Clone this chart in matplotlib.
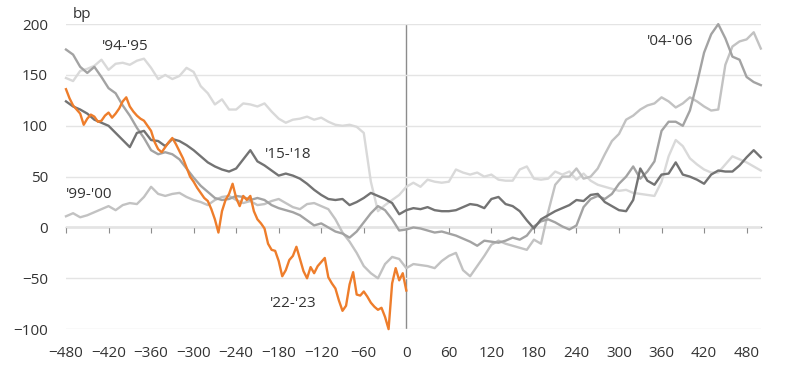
import numpy as np
import matplotlib
matplotlib.use("Agg")
import matplotlib.pyplot as plt

plt.rcParams['font.family'] = ['Open Sans', 'DejaVu Sans']

# ---- data (bp, x = business days relative to last hike) ----
x_orange = np.arange(-480, 1, 5)
y_2223 = [136, 127, 120, 116, 112, 101, 107, 111, 109, 104,
          105, 110, 113, 108, 112, 117, 124, 128, 119, 114,
          110, 107, 105, 100, 95, 84, 77, 74, 79, 84,
          88, 82, 75, 68, 59, 50, 45, 39, 34, 29,
          26, 18, 8, -5, 16, 27, 33, 43, 29, 21,
          31, 27, 31, 16, 8, 4, -1, -16, -22, -23,
          -33, -48, -42, -32, -28, -19, -31, -43, -50, -39,
          -45, -38, -34, -30, -49, -55, -60, -72, -82, -77,
          -56, -44, -66, -67, -63, -68, -74, -78, -81, -79,
          -88, -100, -55, -40, -52, -45, -62]

x_grey = np.arange(-480, 501, 10)
y_1518 = [124, 119, 116, 112, 106, 103, 100, 93, 86, 79,
          93, 95, 86, 85, 80, 87, 85, 81, 76, 70,
          64, 60, 57, 55, 58, 67, 76, 65, 61, 56,
          51, 53, 51, 48, 43, 37, 32, 28, 27, 28,
          22, 25, 29, 34, 31, 28, 24, 13, 17, 19,
          18, 20, 17, 16, 16, 17, 20, 23, 22, 19,
          28, 30, 23, 21, 16, 7, -1, 8, 12, 16,
          19, 22, 27, 26, 32, 33, 25, 21, 17, 16,
          27, 58, 46, 42, 52, 53, 64, 52, 50, 47,
          43, 52, 56, 55, 55, 61, 69, 76, 69]
y_0406 = [175, 170, 158, 152, 158, 148, 137, 132, 120, 110,
          98, 88, 76, 72, 74, 72, 67, 58, 49, 41,
          35, 29, 27, 28, 31, 30, 27, 29, 27, 22,
          19, 17, 15, 12, 7, 2, 4, 0, -4, -6,
          -10, -4, 5, 14, 21, 17, 8, -3, -2, 0,
          -1, -3, -5, -4, -6, -8, -11, -14, -18, -13,
          -14, -15, -13, -10, -12, -8, 1, 6, 8, 5,
          1, -2, 2, 20, 28, 31, 28, 33, 43, 50,
          60, 48, 55, 65, 95, 104, 104, 100, 115, 142,
          172, 190, 200, 186, 168, 165, 148, 143, 140]
y_9900 = [11, 14, 10, 12, 15, 18, 21, 17, 22, 24,
          23, 30, 40, 33, 31, 33, 34, 30, 27, 25,
          22, 27, 30, 31, 27, 24, 26, 22, 23, 26,
          28, 24, 20, 18, 23, 24, 21, 18, 8, -5,
          -14, -25, -38, -45, -50, -36, -29, -31, -40, -36,
          -37, -38, -40, -33, -28, -25, -42, -48, -38, -28,
          -17, -13, -16, -18, -20, -22, -12, -16, 15, 42,
          50, 50, 58, 48, 50, 58, 72, 85, 92, 106,
          110, 116, 120, 122, 128, 124, 118, 122, 128, 124,
          119, 115, 116, 160, 178, 183, 185, 192, 176]
y_9495 = [147, 144, 154, 156, 159, 165, 155, 161, 162, 160,
          164, 166, 157, 146, 150, 146, 149, 157, 153, 139,
          132, 121, 126, 116, 116, 122, 121, 119, 122, 114,
          107, 103, 106, 107, 109, 106, 108, 104, 101, 100,
          101, 99, 93, 45, 16, 22, 27, 32, 40, 44,
          40, 47, 45, 44, 45, 57, 54, 52, 54, 50,
          52, 47, 46, 46, 57, 60, 48, 47, 48, 55,
          52, 55, 47, 53, 46, 42, 40, 38, 36, 37,
          34, 33, 32, 31, 45, 70, 86, 80, 68, 62,
          57, 54, 54, 62, 70, 67, 64, 60, 56]

series = [("'94-'95", y_9495, '#d9d9d9'),
          ("'99-'00", y_9900, '#c2c2c2'),
          ("'04-'06", y_0406, '#a3a3a3'),
          ("'15-'18", y_1518, '#737373')]

x_ticks = list(range(-480, 481, 60))
y_ticks = [-100, -50, 0, 50, 100, 150, 200]

fig = plt.figure(figsize=(8, 3.77), dpi=100)
ax = fig.add_axes([0.0825, 0.127, 0.951 - 0.0825, 0.936 - 0.127])
ax.set_xlim(-480, 500)
ax.set_ylim(-100, 200)

for name, ys, col in series:
    ax.plot(x_grey, ys, color=col, lw=1.7, clip_on=False, zorder=2)
ax.plot(x_orange, y_2223, color='#ee7d2b', lw=1.7, clip_on=False, zorder=3)

ax.set_yticks(y_ticks)
ax.set_xticks(x_ticks)
ax.grid(axis='y', color='#e4e4e4', lw=1, zorder=0)
ax.axvline(0, color='#8c8c8c', lw=1, zorder=1)
for s in ax.spines.values():
    s.set_visible(False)
ax.tick_params(axis='both', length=0, labelsize=11, colors='#333333')
ax.tick_params(axis='x', pad=12)
ax.tick_params(axis='y', pad=13)

sec = ax.secondary_xaxis(1 / 3)
sec.set_xticks(x_ticks)
sec.tick_params(axis='x', direction='out', length=4, color='#8c8c8c', labelbottom=False)
sec.spines['bottom'].set_color('#8c8c8c')
sec.spines['bottom'].set_linewidth(1)

txt = dict(fontsize=11, color='#333333', va='center', ha='left')
ax.text(-430, 178, "'94-'95", **txt)
ax.text(-480, 32, "'99-'00", **txt)
ax.text(-199, 72, "'15-'18", **txt)
ax.text(-192, -75, "'22-'23", **txt)
ax.text(340, 183, "'04-'06", **txt)
fig.text(73 / 800, 1 - 14 / 377, 'bp', fontsize=11, color='#333333', va='center', ha='left')

fig.savefig('out.png', dpi=100)
